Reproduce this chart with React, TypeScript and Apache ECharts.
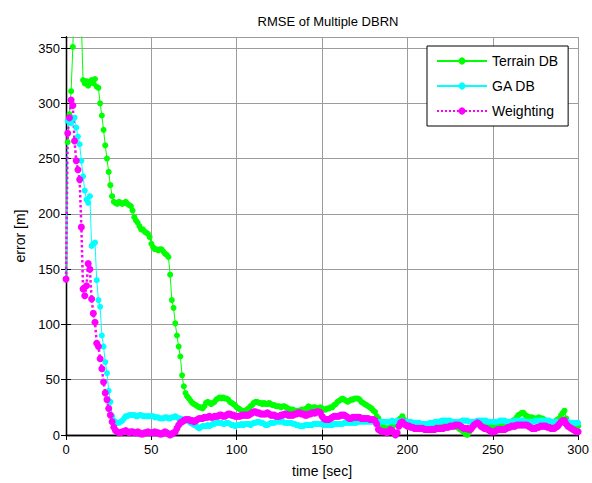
import React, { useEffect, useRef } from "react";
import * as echarts from "echarts";

const titleText = "RMSE of Multiple DBRN";
const xName = "time [sec]";
const yName = "error [m]";
const seriesNames = ["Terrain DB", "GA DB", "Weighting"];
const xTicks = [0, 50, 100, 150, 200, 250, 300];
const yTicks = [0, 50, 100, 150, 200, 250, 300, 350];

// sampled every 1 sec, t = 0 .. 300
const terrainDB = [
  141, 265, 290, 311, 351, 400, 440, 450, 420, 372,
  321, 318, 320, 316, 319, 321, 318, 322, 315, 314,
  300, 289, 276, 262, 250, 238, 226, 216, 211, 210,
  209, 211, 210, 209, 210, 211, 209, 208, 207, 203,
  197, 194, 192, 189, 186, 186, 184, 183, 182, 179,
  173, 170, 168, 168, 167, 168, 168, 166, 164, 163,
  161, 145, 122, 115, 101, 90, 80, 71, 54, 44,
  38, 35, 33, 31, 29, 28, 27, 26, 25, 25,
  24, 26, 29, 30, 29, 28, 29, 30, 32, 33,
  34, 33, 34, 33, 33, 32, 30, 29, 28, 27,
  25, 24, 23, 22, 21, 22, 23, 24, 26, 27,
  29, 30, 30, 29, 29, 28, 29, 28, 28, 29,
  28, 27, 27, 26, 26, 26, 25, 26, 26, 25,
  24, 23, 23, 23, 22, 22, 22, 22, 23, 23,
  23, 24, 26, 25, 24, 25, 25, 24, 24, 25,
  24, 23, 23, 24, 24, 25, 25, 27, 28, 30,
  31, 32, 33, 32, 31, 30, 31, 32, 32, 33,
  33, 33, 32, 30, 29, 28, 27, 26, 25, 24,
  22, 21, 17, 15, 10, 8, 7, 6, 6, 6,
  7, 8, 9, 10, 12, 14, 15, 17, 14, 12,
  11, 10, 10, 9, 9, 9, 9, 8, 8, 8,
  7, 6, 6, 7, 8, 9, 10, 10, 11, 11,
  11, 12, 12, 12, 12, 11, 10, 9, 8, 7,
  6, 5, 4, 3, 1, 0, 2, 5, 8, 10,
  11, 12, 11, 10, 9, 9, 9, 9, 9, 9,
  8, 8, 8, 8, 8, 8, 9, 10, 10, 11,
  11, 12, 13, 14, 16, 18, 19, 20, 20, 18,
  17, 16, 16, 16, 15, 15, 15, 16, 15, 15,
  14, 13, 12, 11, 11, 11, 12, 13, 14, 15,
  18, 20, 22, 15, 11, 10, 9, 8, 8, 8,
  8,
];

const gaDB = [
  141, 284, 287, 282, 286, 287, 278, 270, 263, 248,
  234, 221, 213, 210, 216, 171, 173, 174, 140, 122,
  116, 90, 80, 66, 56, 40, 30, 17, 13, 12,
  11, 11, 12, 13, 15, 17, 17, 18, 18, 18,
  18, 17, 17, 18, 18, 17, 17, 17, 17, 17,
  17, 17, 16, 16, 16, 15, 15, 15, 16, 16,
  15, 15, 16, 16, 17, 16, 15, 15, 14, 14,
  14, 13, 12, 11, 10, 9, 9, 7, 6, 7,
  8, 8, 8, 9, 8, 9, 10, 10, 11, 11,
  11, 11, 10, 10, 11, 11, 10, 9, 9, 8,
  9, 9, 9, 10, 9, 10, 10, 10, 9, 10,
  11, 11, 12, 12, 11, 11, 10, 9, 9, 10,
  11, 11, 11, 12, 12, 12, 12, 12, 11, 11,
  11, 11, 11, 10, 10, 9, 9, 8, 8, 8,
  9, 9, 9, 9, 9, 10, 10, 10, 10, 10,
  10, 9, 9, 9, 9, 9, 9, 10, 10, 10,
  10, 10, 10, 11, 11, 11, 11, 11, 11, 11,
  11, 12, 12, 12, 12, 12, 12, 12, 12, 12,
  12, 12, 12, 12, 12, 12, 12, 12, 12, 12,
  12, 13, 12, 12, 13, 12, 12, 13, 12, 12,
  12, 12, 12, 11, 11, 11, 11, 11, 10, 10,
  10, 10, 10, 11, 11, 11, 12, 12, 12, 12,
  13, 13, 13, 13, 13, 13, 12, 12, 12, 12,
  12, 12, 13, 13, 13, 13, 12, 12, 12, 12,
  12, 13, 13, 13, 13, 13, 13, 12, 12, 12,
  12, 12, 12, 12, 13, 13, 13, 13, 12, 12,
  12, 12, 12, 13, 13, 13, 13, 13, 13, 12,
  12, 12, 12, 12, 12, 13, 13, 13, 13, 13,
  13, 13, 13, 13, 12, 12, 12, 12, 12, 12,
  12, 12, 12, 12, 12, 11, 11, 11, 11, 11,
  11,
];

const weighting = [
  141, 273, 287, 303, 298, 266, 248, 240, 231, 188,
  132, 126, 135, 155, 150, 123, 110, 102, 83, 80,
  69, 60, 48, 38, 32, 24, 18, 12, 7, 4,
  3, 2, 2, 3, 3, 4, 3, 2, 3, 3,
  2, 2, 3, 2, 1, 1, 2, 2, 3, 2,
  2, 2, 3, 2, 2, 1, 1, 2, 3, 2,
  1, 0, 1, 2, 3, 6, 9, 11, 12, 13,
  14, 14, 14, 13, 13, 12, 13, 14, 15, 15,
  15, 16, 16, 16, 17, 16, 16, 17, 17, 17,
  18, 18, 17, 17, 18, 19, 19, 18, 18, 17,
  17, 17, 17, 18, 18, 18, 18, 18, 19, 20,
  21, 21, 20, 20, 19, 19, 19, 19, 20, 19,
  18, 18, 18, 17, 17, 17, 18, 18, 19, 19,
  18, 18, 18, 18, 19, 19, 20, 20, 19, 19,
  18, 18, 19, 19, 20, 20, 20, 21, 21, 20,
  17, 15, 14, 14, 14, 15, 16, 17, 17, 17,
  17, 18, 18, 18, 17, 16, 15, 15, 16, 16,
  16, 16, 16, 15, 15, 15, 15, 15, 14, 14,
  14, 13, 10, 5, 4, 3, 3, 3, 2, 3,
  5, 4, 2, 0, 2, 8, 11, 12, 10, 9,
  8, 8, 7, 7, 6, 6, 6, 6, 6, 6,
  5, 5, 5, 5, 5, 5, 5, 6, 6, 6,
  6, 6, 7, 7, 7, 8, 8, 8, 9, 9,
  9, 8, 7, 6, 6, 6, 5, 5, 7, 9,
  10, 11, 10, 8, 7, 6, 6, 5, 4, 3,
  3, 3, 4, 5, 5, 5, 5, 5, 6, 7,
  7, 8, 8, 8, 9, 9, 9, 9, 9, 9,
  9, 8, 7, 6, 6, 6, 7, 7, 8, 8,
  8, 8, 7, 7, 6, 6, 6, 7, 8, 10,
  12, 13, 13, 10, 8, 7, 6, 5, 4, 3,
  3,
];

const colors = ["#00ff00", "#00ffff", "#ff00ff"];
const FONT = "'Liberation Sans', Arial, Helvetica, sans-serif";

const toPairs = (arr: number[]) => arr.map((v, i) => [i, v]);

export default function App() {
  const ref = useRef<HTMLDivElement>(null);
  useEffect(() => {
    document.body.style.margin = "0";
    if (!ref.current) return;
    const chart = echarts.init(ref.current, undefined, { renderer: "svg" });
    const xStep = xTicks[1] - xTicks[0];
    const yStep = yTicks[1] - yTicks[0];
    const axisCommon = {
      axisLine: { show: true, lineStyle: { color: "#000", width: 1.3 } },
      axisTick: { show: true, inside: true, length: 5, lineStyle: { color: "#000" } },
    };
    chart.setOption({
      animation: false,
      backgroundColor: "#fff",
      title: {
        text: titleText,
        left: 323,
        textAlign: "center",
        top: 10,
        textStyle: { fontFamily: FONT, fontSize: 13, fontWeight: "normal", color: "#000" },
      },
      grid: { left: 66, right: 11, top: 37, bottom: 46, containLabel: false },
      legend: {
        orient: "vertical",
        left: 427,
        top: 46,
        data: seriesNames,
        backgroundColor: "#fff",
        borderColor: "#000",
        borderWidth: 1,
        borderRadius: 0,
        padding: [8, 10, 8, 9],
        itemWidth: 50,
        itemHeight: 9,
        itemGap: 11,
        textStyle: { fontFamily: FONT, fontSize: 14, color: "#000" },
      },
      xAxis: [
        {
          type: "value",
          min: xTicks[0],
          max: xTicks[xTicks.length - 1],
          interval: xStep,
          name: xName,
          nameLocation: "middle",
          nameGap: 29,
          nameTextStyle: { fontFamily: FONT, fontSize: 14, color: "#000" },
          ...axisCommon,
          axisLabel: { margin: 8, fontFamily: FONT, fontSize: 13, color: "#000" },
          splitLine: { show: true, lineStyle: { color: "#9c9c9c", width: 1 } },
        },
        {
          type: "value",
          position: "top",
          min: xTicks[0],
          max: xTicks[xTicks.length - 1],
          interval: xStep,
          ...axisCommon,
          axisLabel: { show: false },
          splitLine: { show: false },
        },
      ],
      yAxis: [
        {
          type: "value",
          min: yTicks[0],
          max: 360,
          interval: yStep,
          name: yName,
          nameLocation: "middle",
          nameGap: 39,
          nameTextStyle: { fontFamily: FONT, fontSize: 14, color: "#000" },
          ...axisCommon,
          axisLabel: {
            margin: 6,
            fontFamily: FONT,
            fontSize: 13,
            color: "#000",
            showMaxLabel: false,
            formatter: (v: number) => (yTicks.includes(v) ? String(v) : ""),
          },
          splitLine: { show: true, lineStyle: { color: "#9c9c9c", width: 1 } },
        },
        {
          type: "value",
          position: "right",
          min: yTicks[0],
          max: 360,
          interval: yStep,
          ...axisCommon,
          axisLabel: { show: false },
          splitLine: { show: false },
        },
      ],
      series: [
        {
          name: seriesNames[0],
          type: "line",
          data: toPairs(terrainDB),
          symbol: "circle",
          symbolSize: 6,
          showAllSymbol: true,
          color: colors[0],
          itemStyle: { color: colors[0] },
          lineStyle: { color: colors[0], width: 1 },
          clip: true,
        },
        {
          name: seriesNames[1],
          type: "line",
          data: toPairs(gaDB),
          symbol: "circle",
          symbolSize: 6,
          showAllSymbol: true,
          color: colors[1],
          itemStyle: { color: colors[1] },
          lineStyle: { color: colors[1], width: 1 },
          clip: true,
        },
        {
          name: seriesNames[2],
          type: "line",
          data: toPairs(weighting),
          symbol: "circle",
          symbolSize: 7,
          showAllSymbol: true,
          color: colors[2],
          itemStyle: { color: colors[2] },
          lineStyle: { color: colors[2], width: 2.5, type: "dotted" },
          clip: true,
        },
      ],
    });
    return () => chart.dispose();
  }, []);
  return <div ref={ref} style={{ width: 592, height: 483 }} />;
}
